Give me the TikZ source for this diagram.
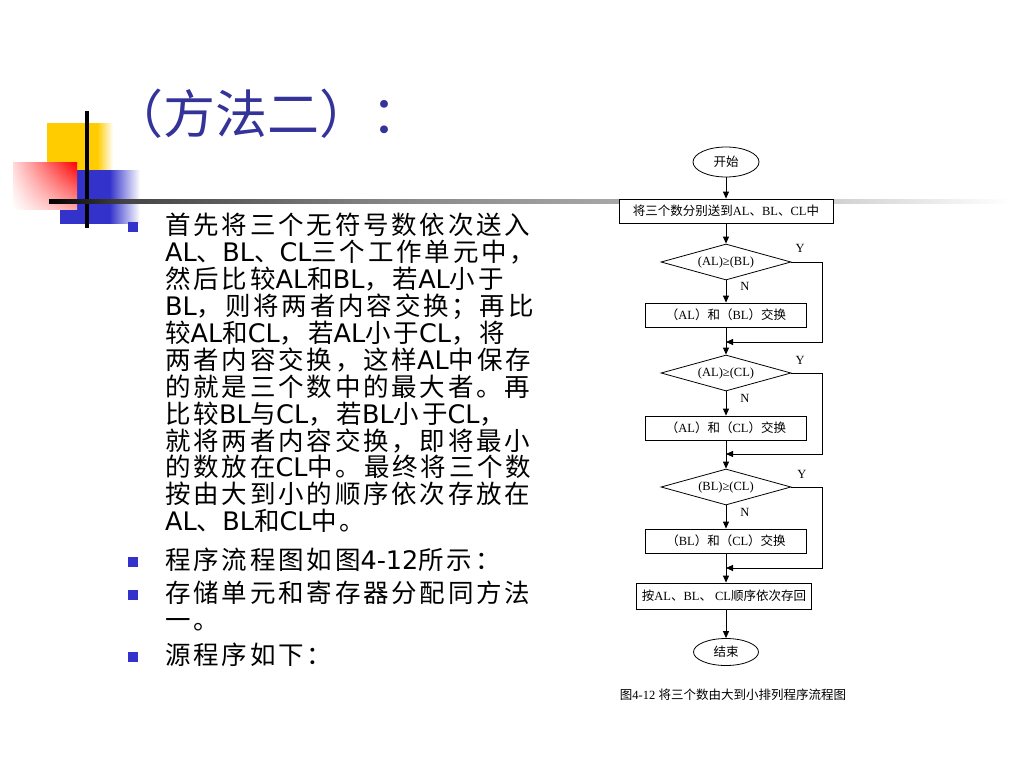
\documentclass[tikz,border=0pt]{standalone}
\usepackage{fontspec}
\setmainfont{Liberation Serif}
\newfontfamily\cjk{Noto Sans CJK SC}
\newfontfamily\cjkb[LetterSpace=11]{Noto Sans CJK SC}
\newfontfamily\lat{DejaVu Sans}
\usetikzlibrary{shapes.geometric,arrows.meta,shadings}
\definecolor{titleblue}{RGB}{51,51,153}
\definecolor{bulletblue}{RGB}{51,51,204}
\definecolor{ygold}{RGB}{255,204,0}
\colorlet{g73}{black!73}
\colorlet{g47}{black!47}
\colorlet{g34}{black!34}
\colorlet{g18}{black!18}
\pgfdeclarehorizontalshading{yfade}{100bp}{color(0bp)=(ygold); color(63bp)=(ygold); color(75bp)=(white); color(100bp)=(white)}
\pgfdeclarehorizontalshading{bfade}{100bp}{color(0bp)=(bulletblue); color(56bp)=(bulletblue); color(75bp)=(white); color(100bp)=(white)}
\pgfdeclarehorizontalshading{lfade}{100bp}{color(0bp)=(black); color(25bp)=(black); color(29bp)=(g73); color(43bp)=(g47); color(55bp)=(g34); color(66bp)=(g18); color(75bp)=(white); color(100bp)=(white)}
\newcommand{\LL}[1]{{\lat #1}}
\begin{document}
\begin{tikzpicture}[x=1pt,y=-1pt,
  body/.style={anchor=base west, inner sep=0pt, text height=17pt, text depth=4pt, font=\cjkb\fontsize{25.5}{28}\selectfont},
  bul/.style={fill=bulletblue},
  fc/.style={font=\fontsize{12.5}{14}\selectfont},
  box/.style={fc, draw, line width=0.8pt, fill=white, minimum height=24pt, inner sep=0pt},
  dia/.style={fc, diamond, draw, line width=0.8pt, fill=white, aspect=3.6, minimum width=130pt, minimum height=36pt, inner sep=0pt},
  term/.style={fc, ellipse, draw, line width=0.8pt, fill=white, minimum width=66pt, minimum height=30pt, inner sep=0pt},
  arr/.style={-{Triangle[length=7pt,width=6pt]}, line width=0.8pt},
  lab/.style={fc, inner sep=0pt}]
\useasboundingbox (0,0) rectangle (1024,768);
\fill[white] (0,0) rectangle (1024,768);
% decoration
\shade[shading=yfade] (47,123) rectangle (113,170);
\shade[shading=bfade] (60,170) rectangle (140,223);
\shade[upper left=red!15, upper right=red, lower left=white, lower right=red!35] (13,162) rectangle (77,209);
\fill[black] (85,111) rectangle (89,228);
\shade[shading=lfade] (49,199) rectangle (1010,203);
% title
\node[anchor=base west, inner sep=0pt, text=titleblue, font=\cjk\fontsize{52}{56}\selectfont] (title) at (111,133) {（方法二）：};
% bullets
\fill[bul] (128,222) rectangle (138,232);
\fill[bul] (128,557) rectangle (138,567);
\fill[bul] (128,590) rectangle (138,600);
\fill[bul] (128,652) rectangle (138,662);
% body text
\node[body] (t1) at (165,234.8) {首先将三个无符号数依次送入};
\node[body] (t2) at (165,261.7) {\LL{AL}、\LL{BL}、\LL{CL}三个工作单元中，};
\node[body] (t3) at (165,288.6) {然后比较\LL{AL}和\LL{BL}，若\LL{AL}小于};
\node[body] (t4) at (165,315.5) {\LL{BL}，则将两者内容交换；再比};
\node[body] (t5) at (165,342.4) {较\LL{AL}和\LL{CL}，若\LL{AL}小于\LL{CL}，将};
\node[body] (t6) at (165,369.3) {两者内容交换，这样\LL{AL}中保存};
\node[body] (t7) at (165,396.2) {的就是三个数中的最大者。再};
\node[body] (t8) at (165,423.1) {比较\LL{BL}与\LL{CL}，若\LL{BL}小于\LL{CL}，};
\node[body] (t9) at (165,450.0) {就将两者内容交换，即将最小};
\node[body] (t10) at (165,476.9) {的数放在\LL{CL}中。最终将三个数};
\node[body] (t11) at (165,503.8) {按由大到小的顺序依次存放在};
\node[body] (t12) at (165,530.7) {\LL{AL}、\LL{BL}和\LL{CL}中。};
\node[body] (t13) at (165,569.8) {程序流程图如图\LL{4-12}所示：};
\node[body] (t14) at (165,602.8) {存储单元和寄存器分配同方法};
\node[body] (t15) at (165,629.8) {一。};
\node[body] (t16) at (165,664.8) {源程序如下：};
% flowchart
\node[term] (start) at (726,162) {\cjk 开始};
\node[box, minimum width=214pt] (b1) at (726,211) {{\cjk 将三个数分别送到}AL{\cjk 、}BL{\cjk 、}CL{\cjk 中}};
\node[dia] (d1) at (726,262) {(AL)≥(BL)};
\node[box, minimum width=161pt] (b2) at (726,315) {{\cjk （}AL{\cjk ）和（}BL{\cjk ）交换}};
\coordinate (m1) at (726,342);
\coordinate (r1) at (822,342);
\node[dia] (d2) at (726,373) {(AL)≥(CL)};
\node[box, minimum width=161pt] (b3) at (726,428) {{\cjk （}AL{\cjk ）和（}CL{\cjk ）交换}};
\coordinate (m2) at (726,454);
\coordinate (r2) at (822,454);
\node[dia] (d3) at (726,487) {(BL)≥(CL)};
\node[box, minimum width=161pt] (b4) at (726,541) {{\cjk （}BL{\cjk ）和（}CL{\cjk ）交换}};
\coordinate (m3) at (726,568);
\coordinate (r3) at (822,568);
\node[box, minimum width=175pt, minimum height=26pt] (b5) at (724,596) {{\cjk 按}AL{\cjk 、}BL{\cjk 、} CL{\cjk 顺序依次存回}};
\node[term, minimum width=65pt, minimum height=27pt] (end) at (726,652) {\cjk 结束};
\node[fc] (cap) at (733,695) {{\cjk 图}4-12 {\cjk 将三个数由大到小排列程序流程图}};
\node[lab] (y1) at (800,248) {Y};
\node[lab] (y2) at (800,360) {Y};
\node[lab] (y3) at (802,474) {Y};
\node[lab] (n1) at (745,286) {N};
\node[lab] (n2) at (745,398) {N};
\node[lab] (n3) at (745,512) {N};
% connectors
\draw[arr] (start) -- (b1);
\draw[arr] (b1) -- (d1);
\draw[arr] (d1) -- (b2);
\draw[arr] (b2) -- (d2);
\draw[arr] (d1.east) -| (r1) -- (m1);
\draw[arr] (d2) -- (b3);
\draw[arr] (b3) -- (d3);
\draw[arr] (d2.east) -| (r2) -- (m2);
\draw[arr] (d3) -- (b4);
\draw[arr] (b4) -- (b4 |- b5.north);
\draw[arr] (d3.east) -| (r3) -- (m3);
\draw[arr] (b5.south -| end) -- (end);
\end{tikzpicture}
\end{document}
